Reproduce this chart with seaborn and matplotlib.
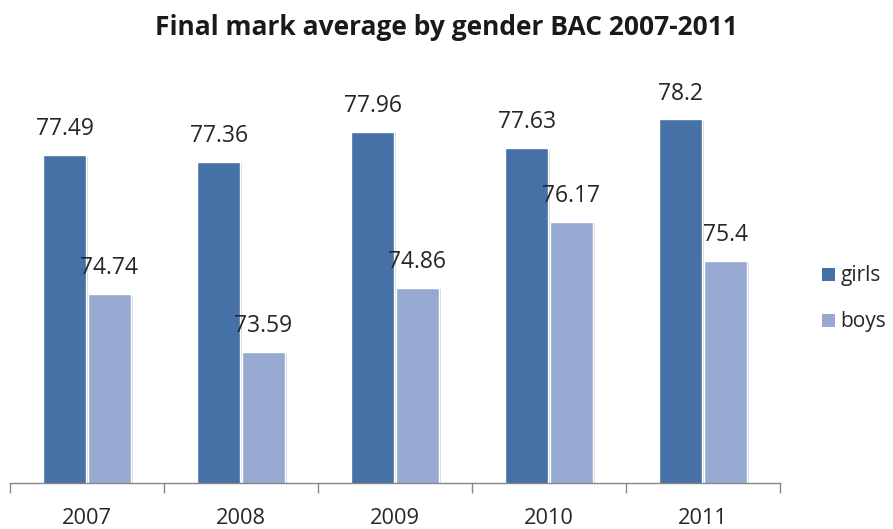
import matplotlib
matplotlib.use("Agg")
import matplotlib.pyplot as plt
import matplotlib.patheffects as pe
from matplotlib.patches import Patch
import seaborn as sns
import pandas as pd

years = ["2007", "2008", "2009", "2010", "2011"]
girls = [77.49, 77.36, 77.96, 77.63, 78.2]
boys = [74.74, 73.59, 74.86, 76.17, 75.4]
series = ["girls", "boys"]
colors = ["#4571A6", "#95A9D1"]

df = pd.DataFrame({
    "year": years * 2,
    "value": girls + boys,
    "gender": [series[0]] * len(years) + [series[1]] * len(years),
})

sns.set_theme(style="white")
plt.rcParams["font.family"] = ["Open Sans", "DejaVu Sans"]
TXT = "#262626"

fig = plt.figure(figsize=(8.93, 5.29), dpi=100)
ax = fig.add_axes([10 / 893, 46 / 529, 770 / 893, 404 / 529])

sns.barplot(data=df, x="year", y="value", hue="gender", hue_order=series,
            palette=colors, saturation=1, width=0.58, gap=0.05, ax=ax, legend=False,
            edgecolor="white", linewidth=1.0, errorbar=None)

for cont in ax.containers:
    for b in cont:
        b.set_path_effects([pe.SimplePatchShadow(offset=(1.5, -1), shadow_rgbFace="#888888", alpha=0.35), pe.Normal()])
    labels = [f"{v:g}" for v in cont.datavalues]
    ax.bar_label(cont, labels=labels, padding=10, fontsize=16.5, color=TXT)

ax.set_ylim(71, 79)
ax.set_xlim(-0.5, 4.5)
ax.set_yticks([])
ax.set_xlabel("")
ax.set_ylabel("")
for s in ["top", "right", "left"]:
    ax.spines[s].set_visible(False)
ax.spines["bottom"].set_color("#868686")
ax.spines["bottom"].set_linewidth(1.0)
ax.set_xticks(range(len(years)))
ax.set_xticklabels(years, fontsize=15.7, color=TXT)
ax.set_xticks([i - 0.5 for i in range(len(years) + 1)], minor=True)
ax.tick_params(axis="x", which="major", length=0, pad=18)
ax.tick_params(axis="x", which="minor", length=7, width=1, color="#868686", direction="out", bottom=True)

handles = [Patch(facecolor=c, edgecolor="none") for c in colors]
fig.legend(handles, series, loc="center left", bbox_to_anchor=(822 / 893, 1 - 299 / 529),
           frameon=False, fontsize=15, handlelength=0.6, handleheight=0.6,
           handletextpad=0.3, labelspacing=1.2, labelcolor=TXT,
           borderpad=0, borderaxespad=0)

fig.text(0.5, 1 - 35 / 529, "Final mark average by gender BAC 2007-2011",
         ha="center", va="baseline", fontsize=19, fontweight="bold", color="#1a1a1a")

fig.savefig("out.png", dpi=100)
